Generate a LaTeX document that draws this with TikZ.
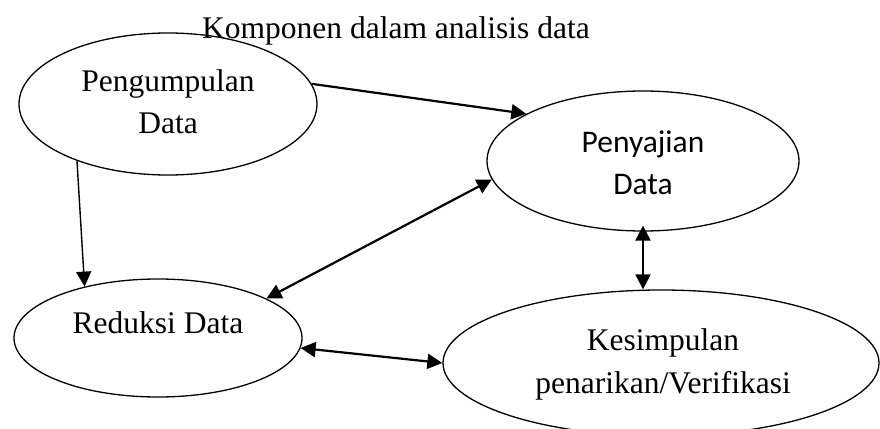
\documentclass[tikz,border=0pt]{standalone}
\usepackage{fontspec}
\setmainfont{Liberation Serif}
\newfontfamily\calibri{Carlito}
\usetikzlibrary{shapes.geometric,arrows.meta}
\begin{document}
\begin{tikzpicture}[x=1pt,y=-1pt,
  oval/.style={draw,ellipse,line width=1.3pt,inner sep=0pt},
  lbl/.style={anchor=base,inner sep=0pt,font=\fontsize{31.5}{38}\selectfont},
  tip/.style={Triangle[length=15pt,width=15pt]},
  conn/.style={line width=2.2pt,-{Triangle[length=15pt,width=15pt]}},
  biconn/.style={line width=2.2pt,{Triangle[length=15pt,width=15pt]}-{Triangle[length=15pt,width=15pt]}},
  thinconn/.style={line width=1.4pt,-{Triangle[length=15pt,width=15pt]}}]
\useasboundingbox (0,0) rectangle (880,428);
\clip (0,0) rectangle (880,428);
\fill[white] (0,0) rectangle (880,428);
\node[oval,minimum width=298pt,minimum height=142pt] (e1) at (168,104) {};
\node[oval,minimum width=312pt,minimum height=140pt] (e2) at (643,161) {};
\node[oval,minimum width=288pt,minimum height=118pt] (e3) at (158,338) {};
\node[oval,minimum width=436pt,minimum height=146pt] (e4) at (661,363) {};
\node[lbl] (title) at (396,38) {Komponen dalam analisis data};
\node[lbl] (t1a) at (168,92) {Pengumpulan};
\node[lbl] (t1b) at (168,133) {Data};
\node[lbl,font=\fontsize{31.5}{38}\calibri] (t2a) at (643,152) {Penyajian};
\node[lbl,font=\fontsize{31.5}{38}\calibri] (t2b) at (643,194) {Data};
\node[lbl] (t3) at (158,333) {Reduksi Data};
\node[lbl] (t4a) at (663,350) {Kesimpulan};
\node[lbl] (t4b) at (663,393) {penarikan/Verifikasi};
\draw[conn] (e1.8.3) -- (e2.158.6);
\draw[thinconn] (e1.212.5) -- (e3.145.4);
\draw[biconn] (e2.187.3) -- (e3.20.2);
\draw[biconn,shorten <=-6pt] (e2.south) -- (e2.south |- e4.north);
\draw[biconn] (e3.-4) -- (e4.west);
\end{tikzpicture}
\end{document}
